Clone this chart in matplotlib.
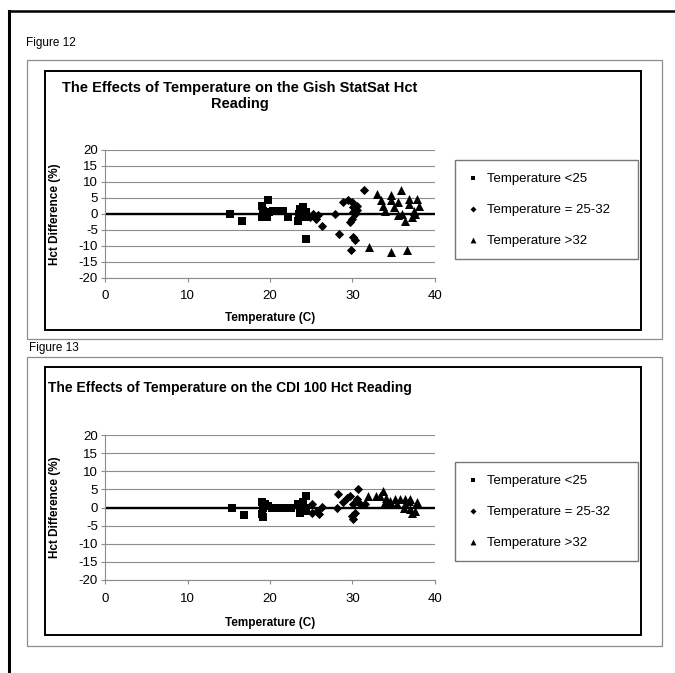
import matplotlib
matplotlib.use("Agg")
import matplotlib.pyplot as plt
from matplotlib.patches import Rectangle
from matplotlib.lines import Line2D

plt.rcParams['font.family'] = ['Liberation Sans', 'DejaVu Sans']
plt.rcParams['axes.unicode_minus'] = False

# ---------------------------------------------------------------------------
# Data (temperature in C, Hct difference in %)
# ---------------------------------------------------------------------------
labels = ["Temperature <25", "Temperature = 25-32", "Temperature >32"]
x_ticks = [0, 10, 20, 30, 40]
y_ticks = [-20, -15, -10, -5, 0, 5, 10, 15, 20]

# Figure 12 - Gish StatSat
gish_low_t = [15.2, 16.6, 19.0, 19.0, 19.2, 19.4, 19.8, 19.6, 19.9, 20.4, 20.8, 21.2, 21.6, 22.2,
              23.4, 23.5, 23.6, 24.0, 23.8, 24.2, 24.4, 24.4]
gish_low_v = [0.0, -2.1, 2.6, -1.1, 1.0, -0.5, 4.4, -1.1, 0.5, 1.0, 1.0, 1.0, 1.0, -1.1,
              -2.1, 0.0, 1.6, 2.3, 0.5, -1.0, -7.9, 0.5]
gish_mid_t = [24.8, 25.2, 25.6, 25.8, 26.3, 27.9, 28.4, 28.9, 29.5, 29.9, 30.1, 30.1, 29.9, 29.7,
              30.5, 30.5, 30.1, 30.3, 29.8, 31.4, 30.3]
gish_mid_v = [-1.1, 0.0, -1.6, -0.5, -3.7, 0.0, -6.3, 3.7, 4.2, 3.7, 2.1, 0.5, -1.6, -2.6,
              1.1, 2.6, -7.4, -8.1, -11.3, 7.6, 0.0]
gish_high_t = [32.0, 33.0, 33.5, 33.7, 33.9, 34.7, 34.7, 35.0, 35.5, 35.9, 35.5, 36.0, 36.4, 36.8,
               36.9, 37.2, 37.6, 37.8, 38.1, 37.4, 34.7, 36.6]
gish_high_v = [-10.3, 6.3, 4.2, 2.6, 1.0, 5.8, 4.2, 2.1, 3.7, 7.6, -0.5, 0.0, -2.1, 4.7,
               3.2, -1.1, 0.0, 4.7, 2.6, 1.0, -11.9, -11.4]

# Figure 13 - CDI 100
cdi_low_t = [15.4, 16.8, 19.0, 19.0, 19.1, 19.2, 19.4, 19.8, 20.2, 20.6, 21.2, 22.0, 22.6,
             23.4, 23.6, 24.0, 24.4, 24.4, 24.2]
cdi_low_v = [0.0, -2.1, 1.4, -1.8, -2.7, 0.0, 0.9, 0.5, 0.0, 0.0, 0.0, 0.0, 0.0,
             0.9, -1.4, 1.4, 3.2, 0.0, -0.9]
cdi_mid_t = [25.1, 25.1, 25.7, 25.9, 26.3, 28.1, 28.3, 28.9, 29.3, 29.7, 29.9, 30.1, 30.3,
             30.5, 30.7, 30.9, 31.5, 30.1]
cdi_mid_v = [0.9, -1.4, -0.9, -1.8, 0.2, 0.0, 3.8, 1.4, 2.7, 3.2, -2.3, -3.2, -1.4,
             2.3, 5.0, 0.9, 0.9, 0.9]
cdi_high_t = [31.9, 32.9, 33.3, 33.7, 34.1, 33.9, 34.5, 34.7, 35.2, 35.4, 35.8, 36.4, 36.4,
              36.2, 36.8, 37.0, 37.0, 37.2, 37.6, 37.8]
cdi_high_v = [3.2, 3.2, 3.2, 4.5, 2.7, 1.4, 1.8, 0.9, 2.3, 0.9, 2.3, 2.3, 0.9,
              0.0, 1.8, 2.3, -0.5, -1.4, -0.9, 1.4]

# ---------------------------------------------------------------------------
# Page layout (pixel helpers)
# ---------------------------------------------------------------------------
W, H = 675, 673
fig = plt.figure(figsize=(W / 100, H / 100), dpi=100)


def fx(px):
    return px / W


def fy(py):
    return 1 - py / H


def box(x0, y0, x1, y1, color, lw):
    fig.add_artist(Rectangle((fx(x0), fy(y1)), (x1 - x0) / W, (y1 - y0) / H,
                             transform=fig.transFigure, fill=False, edgecolor=color, lw=lw))


def line(xs, ys, lw):
    fig.add_artist(Line2D([fx(v) for v in xs], [fy(v) for v in ys],
                          transform=fig.transFigure, color='black', lw=lw))


# page frame
line([9, 9], [11, 673], 2.2)
line([9, 675], [11, 11], 1.8)

GREY = '#8c8c8c'


def panel(top_axes, bottom_axes, series, legend_top, xlabel_y):
    ax = fig.add_axes([fx(105), fy(bottom_axes), 330 / W, (bottom_axes - top_axes) / H])
    ax.set_xlim(0, 40)
    ax.set_ylim(-20, 20)
    ax.set_xticks(x_ticks)
    ax.set_yticks(y_ticks)
    ax.yaxis.grid(True, color=GREY, lw=0.8)
    ax.set_axisbelow(True)
    ax.axhline(0, color='black', lw=1.7, zorder=2)
    markers = ['s', 'D', '^']
    sizes = [30, 22, 42]
    for (t, v), lab, m, s in zip(series, labels, markers, sizes):
        ax.scatter(t, v, marker=m, s=s, color='black', lw=0, label=lab, zorder=3)
    for side in ['top', 'right']:
        ax.spines[side].set_visible(False)
    for side in ['left', 'bottom']:
        ax.spines[side].set_color(GREY)
        ax.spines[side].set_linewidth(0.8)
    ax.tick_params(axis='both', colors=GREY, labelcolor='black', labelsize=9.5,
                   direction='out', length=3, width=0.8)
    ax.tick_params(axis='y', pad=2)
    ax.tick_params(axis='x', pad=6)
    ax.set_xlabel("Temperature (C)", fontsize=8.5, fontweight='bold', va='center')
    ax.xaxis.set_label_coords(0.5, -(xlabel_y - bottom_axes) / (bottom_axes - top_axes))
    ax.set_ylabel("Hct Difference (%)", fontsize=8.5, fontweight='bold', va='center')
    ax.yaxis.set_label_coords(-50 / 330, 0.5)
    ax.legend(loc='upper left', bbox_to_anchor=(fx(455), fy(legend_top + 103), (638 - 455) / W, 103 / H),
              bbox_transform=fig.transFigure, mode='expand', fontsize=9.5, frameon=True,
              fancybox=False, edgecolor='#777777', framealpha=1, borderpad=0.95,
              labelspacing=1.42, handlelength=0.8, handletextpad=0.65, scatterpoints=1,
              markerscale=0.65, borderaxespad=0)
    return ax


# Figure 12
fig.text(fx(26), fy(43), "Figure 12", fontsize=8.5, va='center', ha='left')
box(27, 60, 662, 339, GREY, 0.9)
box(45, 71, 641, 330, 'black', 1.4)
fig.text(fx(240), fy(96), "The Effects of Temperature on the Gish StatSat Hct\nReading",
         fontsize=10.5, fontweight='bold', ha='center', va='center', linespacing=1.2)
panel(150, 277.7, [(gish_low_t, gish_low_v), (gish_mid_t, gish_mid_v), (gish_high_t, gish_high_v)],
      160, 318)

# Figure 13
fig.text(fx(29), fy(348), "Figure 13", fontsize=8.5, va='center', ha='left')
box(27, 357, 662, 646, GREY, 0.9)
box(45, 367, 641, 635, 'black', 1.4)
fig.text(fx(48), fy(388), "The Effects of Temperature on the CDI 100 Hct Reading",
         fontsize=10, fontweight='bold', ha='left', va='center')
panel(435, 580, [(cdi_low_t, cdi_low_v), (cdi_mid_t, cdi_mid_v), (cdi_high_t, cdi_high_v)],
      462, 623)

fig.savefig("out.png", dpi=100)
